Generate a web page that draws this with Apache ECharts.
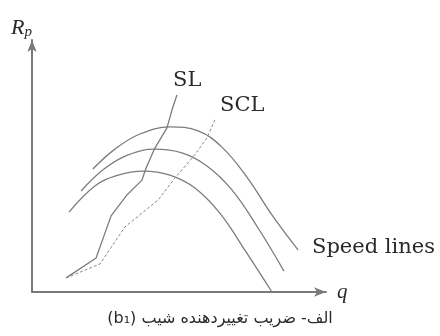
<!DOCTYPE html>
<html>
<head>
<meta charset="utf-8">
<script src="https://cdn.jsdelivr.net/npm/echarts@6/dist/echarts.min.js"></script>
<style>
  html, body { margin: 0; padding: 0; background: #fff; }
  #chart { width: 440px; height: 336px; }
</style>
</head>
<body>
<div id="chart"></div>
<script>
// Compressor map sketch: pressure ratio Rp against flow q
// Three constant-speed characteristics (low, mid, high speed)
const speedLow  = [[1.26,3.17],[2.14,4.21],[2.93,4.64],[3.78,4.80],[4.69,4.64],[5.54,4.13],[6.39,3.13],[7.28,1.59],[8.16,0.00]];
const speedMid  = [[1.67,4.01],[2.45,4.88],[3.27,5.44],[4.18,5.67],[5.10,5.52],[5.95,5.00],[6.80,4.05],[7.69,2.54],[8.57,0.83]];
const speedHigh = [[2.07,4.88],[2.82,5.67],[3.67,6.27],[4.69,6.55],[5.65,6.39],[6.46,5.75],[7.31,4.56],[8.16,3.06],[9.05,1.67]];
// Surge line (SL) and surge control line (SCL)
const surgeLine = [[1.16,0.56],[2.18,1.35],[2.69,3.02],[3.23,3.85],[3.74,4.44],[3.88,4.92],[4.18,5.71],[4.59,6.51],[4.76,7.22],[4.93,7.82]];
const surgeCtrl = [[1.16,0.56],[2.31,1.11],[3.16,2.58],[4.29,3.65],[4.86,4.52],[5.48,5.36],[5.95,6.11],[6.22,6.83]];

const lineGray = '#7c7c7c';
const textColor = '#2a2a2a';

const chart = echarts.init(document.getElementById('chart'), null, { renderer: 'canvas' });

function speedSeries(data) {
  return {
    type: 'line', data: data, smooth: 0.4, showSymbol: false, silent: true,
    lineStyle: { color: lineGray, width: 1.3 }
  };
}

chart.setOption({
  animation: false,
  backgroundColor: '#fff',
  grid: { left: 32, right: 114, top: 40, bottom: 44 },
  xAxis: {
    type: 'value', min: 0, max: 10,
    axisLine: { show: true, symbol: ['none', 'arrow'], symbolSize: [7, 12],
                lineStyle: { color: '#7a7a7a', width: 2 } },
    axisTick: { show: false }, axisLabel: { show: false }, splitLine: { show: false }
  },
  yAxis: {
    type: 'value', min: 0, max: 10,
    axisLine: { show: true, symbol: ['none', 'arrow'], symbolSize: [7, 12],
                lineStyle: { color: '#7a7a7a', width: 2 } },
    axisTick: { show: false }, axisLabel: { show: false }, splitLine: { show: false }
  },
  series: [
    speedSeries(speedLow),
    speedSeries(speedMid),
    speedSeries(speedHigh),
    {
      type: 'line', data: surgeLine, showSymbol: false, silent: true,
      lineStyle: { color: lineGray, width: 1.3 }
    },
    {
      type: 'line', data: surgeCtrl, showSymbol: false, silent: true,
      lineStyle: { color: '#8a8a8a', width: 1, type: [3, 2] }
    }
  ],
  graphic: [
    { type: 'text', left: 11, top: 17,
      style: { text: '{r|R}{s|p}', rich: {
        r: { fontFamily: 'Liberation Serif', fontStyle: 'italic', fontSize: 22, fill: textColor },
        s: { fontFamily: 'Liberation Serif', fontStyle: 'italic', fontSize: 15, fill: textColor, padding: [8, 0, 0, 0] }
      } } },
    { type: 'text', left: 337, top: 282,
      style: { text: 'q', fontFamily: 'Liberation Serif', fontStyle: 'italic', fontSize: 21, fill: textColor } },
    { type: 'text', left: 173, top: 70,
      style: { text: 'SL', fontFamily: 'DejaVu Serif', fontSize: 21, fill: textColor } },
    { type: 'text', left: 220, top: 95,
      style: { text: 'SCL', fontFamily: 'DejaVu Serif', fontSize: 21, fill: textColor } },
    { type: 'text', left: 312, top: 237,
      style: { text: 'Speed lines', fontFamily: 'DejaVu Serif', fontSize: 21, fill: textColor } },
    { type: 'text', left: 'center', top: 311,
      style: { text: '\u202Bالف- ضریب تغییردهنده شیب (b\u2081)\u202C', fontFamily: 'DejaVu Sans', fontSize: 16, fill: textColor } }
  ]
});
</script>
</body>
</html>
